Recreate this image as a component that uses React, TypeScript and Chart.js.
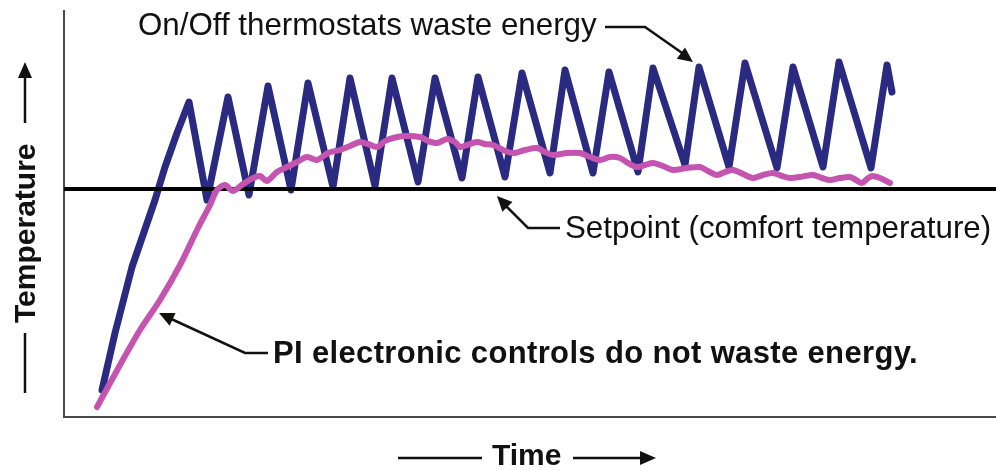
import React, { useEffect, useRef } from "react";
import { Chart, registerables } from "chart.js";

Chart.register(...registerables);

// Time (arbitrary units) and temperature (arbitrary units)
const onOffTime = [38, 51, 68, 91, 101, 113, 125, 143, 164, 185, 204, 227, 244, 269, 286, 311, 328, 354, 371, 398, 414, 441, 458, 486, 501, 529, 545, 574, 589, 621, 635, 665, 681, 713, 729, 759, 775, 807, 823, 828];
const onOffTemp = [27, 84, 150, 217, 250, 284, 315, 217, 320, 222, 331, 227, 334, 230, 339, 231, 339, 235, 339, 239, 340, 240, 344, 244, 347, 244, 345, 245, 349, 252, 350, 250, 354, 249, 350, 250, 355, 249, 352, 325];

const piTime = [33, 56, 76, 96, 116, 134, 146, 153, 161, 169, 179, 189, 196, 203, 213, 223, 233, 243, 253, 264, 276, 286, 296, 304, 313, 321, 329, 341, 356, 364, 373, 383, 391, 396, 403, 413, 421, 429, 439, 449, 461, 473, 481, 489, 503, 516, 526, 536, 546, 556, 564, 573, 581, 589, 599, 609, 623, 636, 644, 653, 661, 669, 679, 689, 699, 709, 718, 726, 736, 749, 758, 766, 776, 786, 792, 798, 803, 808, 816, 826];
const piTemp = [10, 52, 87, 117, 152, 189, 212, 227, 232, 226, 233, 239, 241, 236, 245, 250, 255, 260, 257, 264, 267, 271, 275, 273, 270, 276, 279, 281, 280, 276, 274, 278, 275, 270, 272, 275, 273, 272, 267, 264, 267, 269, 265, 262, 264, 264, 260, 257, 260, 259, 254, 250, 252, 254, 251, 247, 249, 250, 246, 242, 245, 247, 243, 239, 242, 244, 241, 239, 240, 242, 239, 237, 239, 240, 237, 234, 238, 241, 239, 234];

const setpointTime = [0, 932];
const setpointTemp = [228, 228];

const timeRange = [0, 932];
const tempRange = [0, 407];

const FONT = "'Liberation Sans', Arial, Helvetica, sans-serif";

function arrowHead(ctx: CanvasRenderingContext2D, fx: number, fy: number, tx: number, ty: number, len: number, half: number) {
  const ang = Math.atan2(ty - fy, tx - fx);
  ctx.beginPath();
  ctx.moveTo(tx, ty);
  ctx.lineTo(tx - len * Math.cos(ang) + half * Math.sin(ang), ty - len * Math.sin(ang) - half * Math.cos(ang));
  ctx.lineTo(tx - len * Math.cos(ang) - half * Math.sin(ang), ty - len * Math.sin(ang) + half * Math.cos(ang));
  ctx.closePath();
  ctx.fill();
}

function polyline(ctx: CanvasRenderingContext2D, pts: number[][]) {
  ctx.beginPath();
  ctx.moveTo(pts[0][0], pts[0][1]);
  for (let i = 1; i < pts.length; i++) ctx.lineTo(pts[i][0], pts[i][1]);
  ctx.stroke();
}

const decorPlugin = {
  id: "decor",
  beforeDatasetsDraw(chart: any) {
    const { ctx, chartArea } = chart;
    ctx.save();
    ctx.strokeStyle = "#4a4a4a";
    ctx.lineWidth = 2;
    ctx.beginPath();
    ctx.moveTo(chartArea.left, chartArea.top);
    ctx.lineTo(chartArea.left, chartArea.bottom);
    ctx.lineTo(chartArea.right, chartArea.bottom);
    ctx.stroke();
    ctx.restore();
  },
  afterDraw(chart: any) {
    const { ctx } = chart;
    ctx.save();
    ctx.fillStyle = "#111";
    ctx.strokeStyle = "#111";
    ctx.lineWidth = 2.5;
    ctx.lineJoin = "miter";
    ctx.textBaseline = "alphabetic";
    ctx.textAlign = "left";

    // On/Off annotation
    ctx.font = `31.3px ${FONT}`;
    ctx.fillText("On/Off thermostats waste energy", 138, 35);
    polyline(ctx, [[605, 27], [645, 27], [685, 55]]);
    arrowHead(ctx, 645, 27, 693, 62, 15, 7);

    // Setpoint annotation
    ctx.fillText("Setpoint (comfort temperature)", 565, 238);
    polyline(ctx, [[560, 228], [528, 228], [503, 203]]);
    arrowHead(ctx, 528, 228, 497, 196, 15, 7);

    // PI annotation
    ctx.font = `bold 31px ${FONT}`;
    (ctx as any).letterSpacing = "0.35px";
    ctx.fillText("PI electronic controls do not waste energy.", 273, 363);
    (ctx as any).letterSpacing = "0px";
    polyline(ctx, [[268, 353], [245, 353], [167, 317]]);
    arrowHead(ctx, 245, 353, 159, 313, 15, 7);

    // Time axis title
    ctx.font = `bold 30px ${FONT}`;
    ctx.fillText("Time", 492, 465);
    polyline(ctx, [[398, 458], [482, 458]]);
    polyline(ctx, [[573, 458], [645, 458]]);
    arrowHead(ctx, 573, 458, 656, 458, 16, 7);

    // Temperature axis title
    ctx.save();
    ctx.translate(35, 323);
    ctx.rotate(-Math.PI / 2);
    ctx.font = `bold 30px ${FONT}`;
    ctx.fillText("Temperature", 0, 0);
    ctx.restore();
    polyline(ctx, [[25, 393], [25, 333]]);
    polyline(ctx, [[25, 123], [25, 75]]);
    arrowHead(ctx, 25, 123, 25, 62, 16, 7);

    ctx.restore();
  },
};

export default function App() {
  const ref = useRef<HTMLCanvasElement | null>(null);
  useEffect(() => {
    if (!ref.current) return;
    const toPts = (xs: number[], ys: number[]) => xs.map((x, i) => ({ x, y: ys[i] }));
    const chart = new Chart(ref.current, {
      type: "line",
      data: {
        datasets: [
          {
            label: "PI electronic controls",
            data: toPts(piTime, piTemp),
            borderColor: "#c554b0",
            borderWidth: 6,
            pointRadius: 0,
            tension: 0.3,
            borderCapStyle: "round",
            borderJoinStyle: "round",
            order: 0,
          },
          {
            label: "Setpoint",
            data: toPts(setpointTime, setpointTemp),
            borderColor: "#000",
            borderWidth: 4,
            pointRadius: 0,
            order: 1,
          },
          {
            label: "On/Off thermostats",
            data: toPts(onOffTime, onOffTemp),
            borderColor: "#2a2a80",
            borderWidth: 7,
            pointRadius: 0,
            tension: 0,
            borderCapStyle: "round",
            borderJoinStyle: "round",
            order: 2,
          },
        ],
      },
      options: {
        animation: false,
        responsive: false,
        layout: { padding: { left: 64, right: 0, top: 10, bottom: 53 } },
        plugins: { legend: { display: false }, tooltip: { enabled: false }, title: { display: false } },
        scales: {
          x: { type: "linear", min: timeRange[0], max: timeRange[1], display: false },
          y: { type: "linear", min: tempRange[0], max: tempRange[1], display: false },
        },
      },
      plugins: [decorPlugin],
    });
    return () => chart.destroy();
  }, []);
  return (
    <div style={{ position: "absolute", left: 0, top: 0, width: 996, height: 470, background: "#fff" }}>
      <canvas ref={ref} width={996} height={470} />
    </div>
  );
}
